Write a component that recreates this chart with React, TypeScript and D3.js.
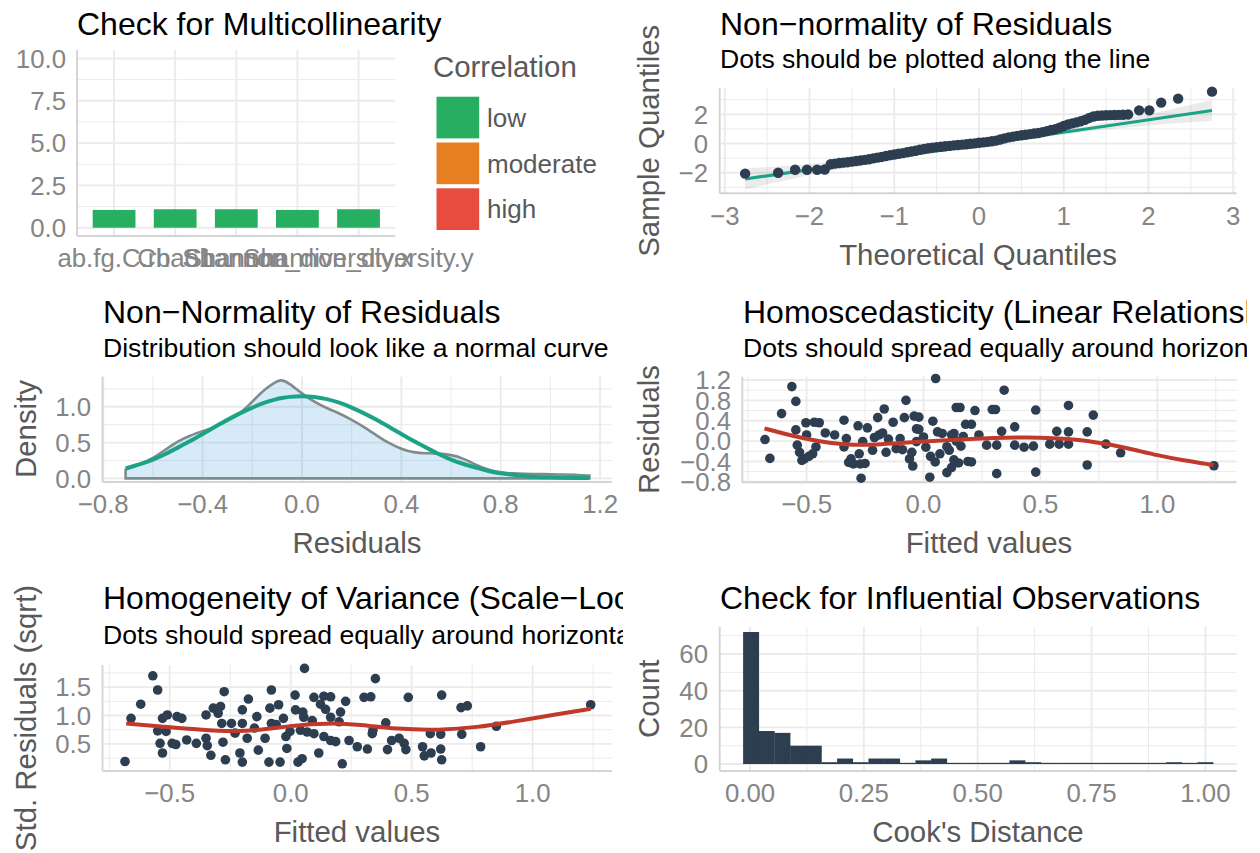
import React, { useEffect, useRef } from "react";
import * as d3 from "d3";

// panel 1 - collinearity
const vifTerms = ["ab.fg.C.rb", "Chao1", "Shannon", "Shannon_diversity.x", "Shannon_diversity.y"];
const vifValues = [1.05, 1.09, 1.09, 1.05, 1.09];
const vifLevels = ["low", "moderate", "high"];
const vifColors = ["#27ae60", "#e67e22", "#e74c3c"];
const vifTicks = [0, 2.5, 5, 7.5, 10];

// panel 2 - qq plot [theoretical, sample]
const qqPoints = [
  [-2.76, -2.06], [-2.37, -2.0], [-2.17, -1.8], [-2.03, -1.8], [-1.91, -1.8], [-1.82, -1.78],
  [-1.75, -1.42], [-1.7, -1.38], [-1.65, -1.34], [-1.6, -1.31], [-1.55, -1.28], [-1.5, -1.24],
  [-1.45, -1.2], [-1.4, -1.16], [-1.35, -1.12], [-1.3, -1.08], [-1.25, -1.02], [-1.2, -0.97],
  [-1.15, -0.92], [-1.1, -0.86], [-1.05, -0.8], [-1.0, -0.75], [-0.95, -0.7], [-0.9, -0.66],
  [-0.85, -0.6], [-0.8, -0.55], [-0.75, -0.5], [-0.7, -0.43], [-0.65, -0.37], [-0.6, -0.32],
  [-0.55, -0.28], [-0.5, -0.25], [-0.45, -0.22], [-0.4, -0.19], [-0.35, -0.16], [-0.3, -0.13],
  [-0.25, -0.1], [-0.2, -0.08], [-0.15, -0.05], [-0.1, -0.02], [-0.05, 0.01], [0.0, 0.05],
  [0.05, 0.08], [0.1, 0.11], [0.15, 0.15], [0.2, 0.2], [0.25, 0.27], [0.3, 0.35], [0.35, 0.42],
  [0.4, 0.47], [0.45, 0.52], [0.5, 0.56], [0.55, 0.6], [0.6, 0.64], [0.65, 0.68], [0.7, 0.72],
  [0.75, 0.78], [0.8, 0.85], [0.85, 0.92], [0.9, 0.98], [0.95, 1.08], [1.0, 1.2], [1.05, 1.3],
  [1.1, 1.38], [1.15, 1.45], [1.2, 1.52], [1.25, 1.62], [1.3, 1.75], [1.35, 1.85], [1.4, 1.9],
  [1.45, 1.92], [1.5, 1.93], [1.55, 1.94], [1.6, 1.95], [1.65, 1.96], [1.7, 1.97], [1.76, 1.99],
  [1.89, 2.27], [2.01, 2.27], [2.15, 2.8], [2.35, 3.07], [2.75, 3.55],
];
const qqLine = [[-2.76, -2.43], [2.75, 2.26]];
const qqBand = [
  [-2.76, -3.15, -1.71], [-2.4, -2.67, -1.58], [-2.0, -2.16, -1.4], [-1.5, -1.6, -1.12],
  [-1.0, -1.08, -0.78], [-0.5, -0.61, -0.41], [0, -0.17, 0.01], [0.5, 0.25, 0.45],
  [1.0, 0.62, 0.92], [1.5, 0.96, 1.44], [2.0, 1.24, 2.0], [2.4, 1.42, 2.52], [2.75, 1.54, 2.98],
];

// panel 3 - density of residuals
const densX = [-0.71, -0.65, -0.6, -0.55, -0.5, -0.45, -0.4, -0.35, -0.3, -0.25, -0.2, -0.15, -0.1, -0.085,
  -0.05, 0, 0.05, 0.1, 0.15, 0.2, 0.25, 0.3, 0.35, 0.4, 0.45, 0.5, 0.55, 0.6, 0.65, 0.7, 0.75, 0.8, 0.85,
  0.9, 0.95, 1.0, 1.05, 1.1, 1.157];
const densY = [0.12, 0.2, 0.28, 0.4, 0.52, 0.6, 0.66, 0.72, 0.8, 0.9, 1.07, 1.25, 1.36, 1.38,
  1.33, 1.18, 1.07, 0.98, 0.91, 0.82, 0.72, 0.6, 0.49, 0.41, 0.36, 0.35, 0.35, 0.33, 0.28, 0.19, 0.12, 0.08, 0.07,
  0.065, 0.06, 0.06, 0.055, 0.05, 0.04];
const normY = [0.14, 0.2, 0.26, 0.34, 0.43, 0.52, 0.62, 0.72, 0.82, 0.91, 0.99, 1.06, 1.11, 1.12,
  1.14, 1.15, 1.14, 1.11, 1.06, 0.99, 0.91, 0.82, 0.72, 0.62, 0.52, 0.43, 0.34, 0.26, 0.2, 0.15, 0.1, 0.07, 0.05,
  0.03, 0.02, 0.015, 0.01, 0.007, 0.005];

// panel 4 - residuals vs fitted [fitted, residual]
const residFitted = [
  [-0.678, 0.03], [-0.657, -0.34], [-0.607, 0.54], [-0.563, 1.07], [-0.546, 0.78], [-0.546, 0.22],
  [-0.54, -0.08], [-0.503, 0.36], [-0.467, 0.37], [-0.446, 0.36], [-0.5, 0.12], [-0.51, -0.35],
  [-0.474, -0.25], [-0.46, -0.115], [-0.53, -0.22], [-0.52, -0.38], [-0.49, -0.3], [-0.42, 0.16],
  [-0.38, 0.12], [-0.34, 0.41], [-0.33, 0.05], [-0.34, -0.115], [-0.31, -0.35], [-0.3, -0.45],
  [-0.32, -0.42], [-0.28, 0.3], [-0.275, -0.25], [-0.27, -0.45], [-0.267, -0.73], [-0.26, -0.01],
  [-0.25, -0.44], [-0.24, 0.26], [-0.218, -0.18], [-0.196, 0.46], [-0.19, 0.12], [-0.175, 0.16],
  [-0.168, 0.63], [-0.16, -0.22], [-0.13, 0.37], [-0.117, -0.15], [-0.1, 0.05], [-0.082, 0.46],
  [-0.075, 0.8], [-0.06, -0.35], [-0.046, -0.49], [-0.04, 0.49], [-0.03, 0.24], [-0.03, -0.01],
  [-0.21, 0.07], [-0.15, 0.04], [-0.09, -0.17], [-0.05, -0.22],
  [0.052, 1.23], [0.345, 1.0], [0.14, 0.66], [0.156, 0.66], [0.22, 0.6], [0.294, 0.62], [0.308, 0.62],
  [0.48, 0.61], [0.62, 0.7], [0.726, 0.51], [0.04, 0.39], [0.18, 0.33], [0.205, 0.33], [0.39, 0.28],
  [0.334, 0.19], [0.237, 0.12], [0.57, 0.19], [0.62, 0.18], [0.7, 0.18], [0.78, -0.06], [0.843, -0.23],
  [0.27, -0.08], [0.313, -0.08], [0.39, -0.08], [0.43, -0.12], [0.47, -0.1], [0.54, -0.06], [0.58, -0.06],
  [0.62, -0.06], [0.7, -0.47], [0.313, -0.64], [0.48, -0.61], [0.027, -0.71], [0.1, -0.62], [0.12, -0.52],
  [0.15, -0.43], [0.19, -0.4], [0.205, -0.41], [0.05, -0.41], [0.01, -0.12], [0.11, -0.18], [0.08, 0.15],
  [0.12, 0.12], [0.0, 0.08], [-0.02, 0.23], [-0.02, 0.47], [0.06, 0.18], [0.1, -0.11], [0.13, 0.15],
  [0.13, -0.37], [0.17, 0.09], [0.16, -0.1], [0.07, -0.25], [0.03, -0.3], [0.14, 0.0], [1.242, -0.485],
];
const residLoess = [
  [-0.68, 0.25], [-0.6, 0.15], [-0.51, 0.05], [-0.4, -0.04], [-0.3, -0.08], [-0.2, -0.07], [-0.1, -0.04],
  [0, -0.01], [0.1, 0.02], [0.2, 0.04], [0.3, 0.06], [0.4, 0.07], [0.5, 0.07], [0.6, 0.05], [0.7, 0.01],
  [0.8, -0.07], [0.9, -0.17], [1.0, -0.28], [1.1, -0.37], [1.24, -0.47],
];

// panel 5 - scale-location [fitted, sqrt|std resid|]
const scaleLoc = [
  [-0.685, 0.19], [-0.66, 0.95], [-0.62, 1.2], [-0.57, 1.7], [-0.55, 1.45], [-0.55, 0.73], [-0.54, 0.51],
  [-0.53, 0.34], [-0.53, 0.95], [-0.51, 1.01], [-0.515, 0.72], [-0.49, 0.51], [-0.475, 0.49], [-0.47, 0.98],
  [-0.45, 0.95], [-0.43, 0.57], [-0.39, 0.51], [-0.35, 1.01], [-0.35, 0.6], [-0.345, 0.47], [-0.33, 0.3],
  [-0.32, 1.13], [-0.3, 1.04], [-0.29, 1.16], [-0.285, 0.86], [-0.28, 0.53], [-0.275, 1.42], [-0.27, 0.22],
  [-0.245, 0.86], [-0.23, 0.69], [-0.21, 0.34], [-0.2, 0.18], [-0.2, 1.1], [-0.2, 0.86], [-0.175, 1.29],
  [-0.18, 0.6], [-0.15, 0.78], [-0.14, 0.98], [-0.134, 0.39], [-0.106, 0.6], [-0.09, 0.18], [-0.086, 1.13],
  [-0.08, 1.45], [-0.08, 0.86], [-0.06, 0.84], [-0.05, 1.19], [-0.044, 0.18], [-0.03, 0.95], [-0.02, 0.63],
  [-0.016, 0.42], [-0.003, 0.72], [0.018, 1.36], [0.02, 1.1], [0.03, 0.18],
  [0.057, 1.83], [0.35, 1.65], [0.096, 1.32], [0.137, 1.34], [0.165, 1.33], [0.227, 1.25], [0.303, 1.32],
  [0.331, 1.33], [0.486, 1.32], [0.624, 1.36], [0.704, 1.14], [0.73, 1.17], [0.05, 1.06], [0.054, 0.97],
  [0.089, 0.91], [0.123, 1.2], [0.144, 1.11], [0.165, 0.97], [0.206, 1.06], [0.2, 0.89], [0.04, 0.74],
  [0.068, 0.71], [0.096, 0.68], [0.137, 0.63], [0.165, 0.56], [0.186, 0.54], [0.241, 0.56], [0.275, 0.45],
  [0.317, 0.41], [0.337, 0.68], [0.34, 0.74], [0.393, 0.87], [0.4, 0.4], [0.417, 0.56], [0.448, 0.6],
  [0.469, 0.51], [0.476, 0.4], [0.545, 0.45], [0.552, 0.29], [0.58, 0.34], [0.577, 0.68], [0.62, 0.67],
  [0.62, 0.41], [0.624, 0.22], [0.707, 0.67], [0.785, 0.45], [0.85, 0.81], [0.047, 0.24], [0.116, 0.34],
  [0.213, 0.15], [1.24, 1.19],
];
const scaleLocLoess = [
  [-0.68, 0.86], [-0.54, 0.81], [-0.38, 0.75], [-0.215, 0.71], [-0.084, 0.77], [0.05, 0.84], [0.18, 0.87],
  [0.28, 0.84], [0.44, 0.76], [0.61, 0.74], [0.77, 0.79], [0.93, 0.9], [1.1, 1.02], [1.24, 1.12],
];

// panel 6 - cook's distance histogram
const cookStart = -0.0151;
const cookBinWidth = 0.0344;
const cookCounts = [72, 18, 17, 10, 10, 1, 3, 1, 3, 3, 0, 2, 3, 0, 0, 0, 0, 2, 1, 0, 0, 0, 0, 0, 0, 0, 0, 1, 0, 1];

const FONT = "'Liberation Sans', Arial, Helvetica, sans-serif";
const GRID = "#ebebeb";
const AXIS = "#d4d4d4";
const TICK = "#858585";
const LAB = "#595959";
const DOT = "#2c3e50";
const TEAL = "#1ca386";
const RED = "#c0392b";

const TITLE_SIZE = 32;
const SUB_SIZE = 26.6;
const AXT_SIZE = 29.4;
const TICK_SIZE = 25.8;

const minus = (s: string) => s.replace("-", "\u2212");

const App = () => {
  const ref = useRef(null);

  useEffect(() => {
    const svg = d3.select(ref.current);
    svg.selectAll("*").remove();

    const defs = svg.append("defs");
    defs.append("clipPath").attr("id", "clipL").append("rect").attr("x", 0).attr("y", 0).attr("width", 623).attr("height", 853);
    defs.append("clipPath").attr("id", "clipR").append("rect").attr("x", 630).attr("y", 0).attr("width", 617).attr("height", 853);

    const text = (g, x, y, s, size, color, anchor = "start") =>
      g.append("text").attr("x", x).attr("y", y).attr("font-size", size).attr("fill", color)
        .attr("text-anchor", anchor).attr("font-family", FONT).text(s);

    const frame = (g, o) => {
      const [x0, x1] = o.xr;
      const [yb, yt] = o.yr;
      const vline = (px, w) => g.append("line").attr("x1", px).attr("x2", px).attr("y1", yb).attr("y2", yt).attr("stroke", GRID).attr("stroke-width", w);
      const hline = (py, w) => g.append("line").attr("x1", x0).attr("x2", x1).attr("y1", py).attr("y2", py).attr("stroke", GRID).attr("stroke-width", w);
      (o.xMinor || []).forEach(p => vline(p, 1));
      (o.yMinor || []).forEach(p => hline(p, 1));
      (o.xMajor || []).forEach(p => vline(p, 1.9));
      (o.yMajor || []).forEach(p => hline(p, 1.9));
      g.append("line").attr("x1", x0).attr("x2", x0).attr("y1", yb).attr("y2", yt).attr("stroke", AXIS).attr("stroke-width", 1.9);
      g.append("line").attr("x1", x0).attr("x2", x1).attr("y1", yb).attr("y2", yb).attr("stroke", AXIS).attr("stroke-width", 1.9);
    };

    const yLabels = (g, vals, y, xRight, fmt) =>
      vals.forEach(v => text(g, xRight, y(v), minus(fmt(v)), TICK_SIZE, TICK, "end").attr("dy", "0.36em"));
    const xLabels = (g, vals, x, base, fmt) =>
      vals.forEach(v => text(g, x(v), base, minus(fmt(v)), TICK_SIZE, TICK, "middle"));
    const yTitle = (g, x, y, s) =>
      g.append("text").attr("transform", `translate(${x},${y}) rotate(-90)`).attr("text-anchor", "middle")
        .attr("font-size", AXT_SIZE).attr("fill", LAB).attr("font-family", FONT).text(s);

    const f1 = d3.format(".1f");
    const f0 = d3.format("d");
    const f2 = d3.format(".2f");

    // ---------- panel 1
    {
      const g = svg.append("g").attr("clip-path", "url(#clipL)");
      const x = d3.scalePoint().domain(vifTerms).range([77.4, 395.2]).padding(0.6);
      const y = d3.scaleLinear().domain([-0.49, 10.5]).range([236, 50]);
      frame(g, {
        xr: [77, 395.2], yr: [236, 50],
        xMajor: vifTerms.map(t => x(t)),
        yMajor: vifTicks.map(y),
        yMinor: [1.25, 3.75, 6.25, 8.75].map(y),
      });
      const bw = x.step() * 0.7;
      g.selectAll(".bar").data(vifValues).enter().append("rect")
        .attr("x", (d, i) => x(vifTerms[i]) - bw / 2)
        .attr("y", d => y(d))
        .attr("width", bw)
        .attr("height", d => y(0) - y(d))
        .attr("fill", vifColors[0]);
      yLabels(g, vifTicks, y, 66, f1);
      vifTerms.forEach(t => text(g, x(t), 267, t, TICK_SIZE, TICK, "middle"));
      text(g, 77, 35, "Check for Multicollinearity", TITLE_SIZE, "#000");
      text(g, 433, 77, "Correlation", AXT_SIZE, LAB);
      vifLevels.forEach((lv, i) => {
        g.append("rect").attr("x", 436.5).attr("y", 96.7 + i * 45.8).attr("width", 42.7).attr("height", 41.7).attr("fill", vifColors[i]);
        text(g, 487, 117.5 + i * 45.8, lv, 26, LAB).attr("dy", "0.36em");
      });
    }

    // ---------- panel 2
    {
      const g = svg.append("g").attr("clip-path", "url(#clipR)");
      const x = d3.scaleLinear().domain([-3.06, 3.04]).range([719.7, 1236.6]);
      const y = d3.scaleLinear().domain([-3.41, 3.78]).range([193.3, 88.3]);
      frame(g, {
        xr: [719.7, 1236.6], yr: [193.3, 88.3],
        xMajor: [-3, -2, -1, 0, 1, 2, 3].map(x),
        xMinor: [-2.5, -1.5, -0.5, 0.5, 1.5, 2.5].map(x),
        yMajor: [-2, 0, 2].map(y),
        yMinor: [-3, -1, 1, 3].map(y),
      });
      const band = d3.area().x(d => x(d[0])).y0(d => y(d[1])).y1(d => y(d[2])).curve(d3.curveMonotoneX);
      g.append("path").attr("d", band(qqBand)).attr("fill", "#000").attr("fill-opacity", 0.08);
      g.append("path").attr("d", d3.line().x(d => x(d[0])).y(d => y(d[1]))(qqLine))
        .attr("stroke", TEAL).attr("stroke-width", 3.2).attr("fill", "none");
      g.selectAll(".pt").data(qqPoints).enter().append("circle")
        .attr("cx", d => x(d[0])).attr("cy", d => y(d[1])).attr("r", 5.2).attr("fill", DOT);
      yLabels(g, [-2, 0, 2], y, 708, f0);
      xLabels(g, [-3, -2, -1, 0, 1, 2, 3], x, 225, f0);
      text(g, 978, 265, "Theoretical Quantiles", AXT_SIZE, LAB, "middle");
      yTitle(g, 659, 140.8, "Sample Quantiles");
      text(g, 720, 35, "Non\u2212normality of Residuals", TITLE_SIZE, "#000");
      text(g, 720, 68, "Dots should be plotted along the line", SUB_SIZE, "#000");
    }

    // ---------- panel 3
    {
      const g = svg.append("g").attr("clip-path", "url(#clipL)");
      const x = d3.scaleLinear().domain([-0.803, 1.248]).range([102.5, 612]);
      const y = d3.scaleLinear().domain([-0.05, 1.42]).range([482, 376.7]);
      frame(g, {
        xr: [102.5, 612], yr: [482, 376.7],
        xMajor: [-0.8, -0.4, 0, 0.4, 0.8, 1.2].map(x),
        xMinor: [-0.6, -0.2, 0.2, 0.6, 1.0].map(x),
        yMajor: [0, 0.5, 1.0].map(y),
        yMinor: [0.25, 0.75, 1.25].map(y),
      });
      const pts = densX.map((v, i) => [v, densY[i]]);
      const area = d3.area().x(d => x(d[0])).y0(y(0)).y1(d => y(d[1])).curve(d3.curveBasis);
      g.append("path").attr("d", area(pts)).attr("fill", "#3498db").attr("fill-opacity", 0.2)
        .attr("stroke", "#7f8c8d").attr("stroke-width", 2.6);
      const nline = d3.line().x(d => x(d[0])).y(d => y(d[1])).curve(d3.curveBasis);
      g.append("path").attr("d", nline(densX.map((v, i) => [v, normY[i]])))
        .attr("fill", "none").attr("stroke", TEAL).attr("stroke-width", 4);
      yLabels(g, [0, 0.5, 1.0], y, 91, f1);
      xLabels(g, [-0.8, -0.4, 0, 0.4, 0.8, 1.2], x, 513, f1);
      text(g, 357, 553, "Residuals", AXT_SIZE, LAB, "middle");
      yTitle(g, 36, 429, "Density");
      text(g, 103, 322.7, "Non\u2212Normality of Residuals", TITLE_SIZE, "#000");
      text(g, 103, 356.7, "Distribution should look like a normal curve", SUB_SIZE, "#000");
    }

    // ---------- panel 4
    {
      const g = svg.append("g").attr("clip-path", "url(#clipR)");
      const x = d3.scaleLinear().domain([-0.775, 1.339]).range([742.3, 1236.6]);
      const y = d3.scaleLinear().domain([-0.81, 1.265]).range([482.3, 376.7]);
      frame(g, {
        xr: [742.3, 1236.6], yr: [482.3, 376.7],
        xMajor: [-0.5, 0, 0.5, 1.0].map(x),
        xMinor: [-0.75, -0.25, 0.25, 0.75, 1.25].map(x),
        yMajor: [-0.8, -0.4, 0, 0.4, 0.8, 1.2].map(y),
        yMinor: [-0.6, -0.2, 0.2, 0.6, 1.0].map(y),
      });
      g.selectAll(".pt").data(residFitted).enter().append("circle")
        .attr("cx", d => x(d[0])).attr("cy", d => y(d[1])).attr("r", 4.8).attr("fill", DOT);
      g.append("path").attr("d", d3.line().x(d => x(d[0])).y(d => y(d[1])).curve(d3.curveBasis)(residLoess))
        .attr("fill", "none").attr("stroke", RED).attr("stroke-width", 4);
      yLabels(g, [-0.8, -0.4, 0, 0.4, 0.8, 1.2], y, 731, f1);
      xLabels(g, [-0.5, 0, 0.5, 1.0], x, 513, f1);
      text(g, 989, 553, "Fitted values", AXT_SIZE, LAB, "middle");
      yTitle(g, 659, 429.5, "Residuals");
      text(g, 743, 322.7, "Homoscedasticity (Linear Relationship)", TITLE_SIZE, "#000");
      text(g, 743, 356.7, "Dots should spread equally around horizontal line", SUB_SIZE, "#000");
    }

    // ---------- panel 5
    {
      const g = svg.append("g").attr("clip-path", "url(#clipL)");
      const x = d3.scaleLinear().domain([-0.778, 1.328]).range([102.5, 612]);
      const y = d3.scaleLinear().domain([0.023, 1.89]).range([771, 665]);
      frame(g, {
        xr: [102.5, 612], yr: [771, 665],
        xMajor: [-0.5, 0, 0.5, 1.0].map(x),
        xMinor: [-0.75, -0.25, 0.25, 0.75, 1.25].map(x),
        yMajor: [0.5, 1.0, 1.5].map(y),
        yMinor: [0.25, 0.75, 1.25, 1.75].map(y),
      });
      g.selectAll(".pt").data(scaleLoc).enter().append("circle")
        .attr("cx", d => x(d[0])).attr("cy", d => y(d[1])).attr("r", 4.8).attr("fill", DOT);
      g.append("path").attr("d", d3.line().x(d => x(d[0])).y(d => y(d[1])).curve(d3.curveBasis)(scaleLocLoess))
        .attr("fill", "none").attr("stroke", RED).attr("stroke-width", 4);
      yLabels(g, [0.5, 1.0, 1.5], y, 91, f1);
      xLabels(g, [-0.5, 0, 0.5, 1.0], x, 802, f1);
      text(g, 357, 842, "Fitted values", AXT_SIZE, LAB, "middle");
      yTitle(g, 36, 718, "Std. Residuals (sqrt)");
      text(g, 103, 609, "Homogeneity of Variance (Scale\u2212Location)", TITLE_SIZE, "#000");
      text(g, 103, 644, "Dots should spread equally around horizontal line", SUB_SIZE, "#000");
    }

    // ---------- panel 6
    {
      const g = svg.append("g").attr("clip-path", "url(#clipR)");
      const x = d3.scaleLinear().domain([-0.0665, 1.0685]).range([719.7, 1236.6]);
      const y = d3.scaleLinear().domain([-3.8, 74.9]).range([771, 626.7]);
      frame(g, {
        xr: [719.7, 1236.6], yr: [771, 626.7],
        xMajor: [0, 0.25, 0.5, 0.75, 1.0].map(x),
        xMinor: [0.125, 0.375, 0.625, 0.875].map(x),
        yMajor: [0, 20, 40, 60].map(y),
        yMinor: [10, 30, 50, 70].map(y),
      });
      g.selectAll(".bar").data(cookCounts).enter().append("rect")
        .attr("x", (d, i) => x(cookStart + i * cookBinWidth))
        .attr("width", x(cookBinWidth) - x(0) + 0.3)
        .attr("y", d => (d > 0 ? y(d) : y(0) - 1.2))
        .attr("height", d => (d > 0 ? y(0) - y(d) : 1.2))
        .attr("fill", DOT);
      yLabels(g, [0, 20, 40, 60], y, 708, f0);
      xLabels(g, [0, 0.25, 0.5, 0.75, 1.0], x, 802, f2);
      text(g, 978, 842, "Cook's Distance", AXT_SIZE, LAB, "middle");
      yTitle(g, 659, 698.8, "Count");
      text(g, 720, 609, "Check for Influential Observations", TITLE_SIZE, "#000");
    }
  }, []);

  return (
    <svg ref={ref} width={1260} height={853}
      style={{ position: "absolute", left: 0, top: 0, background: "#fff" }} />
  );
};

export default App;
